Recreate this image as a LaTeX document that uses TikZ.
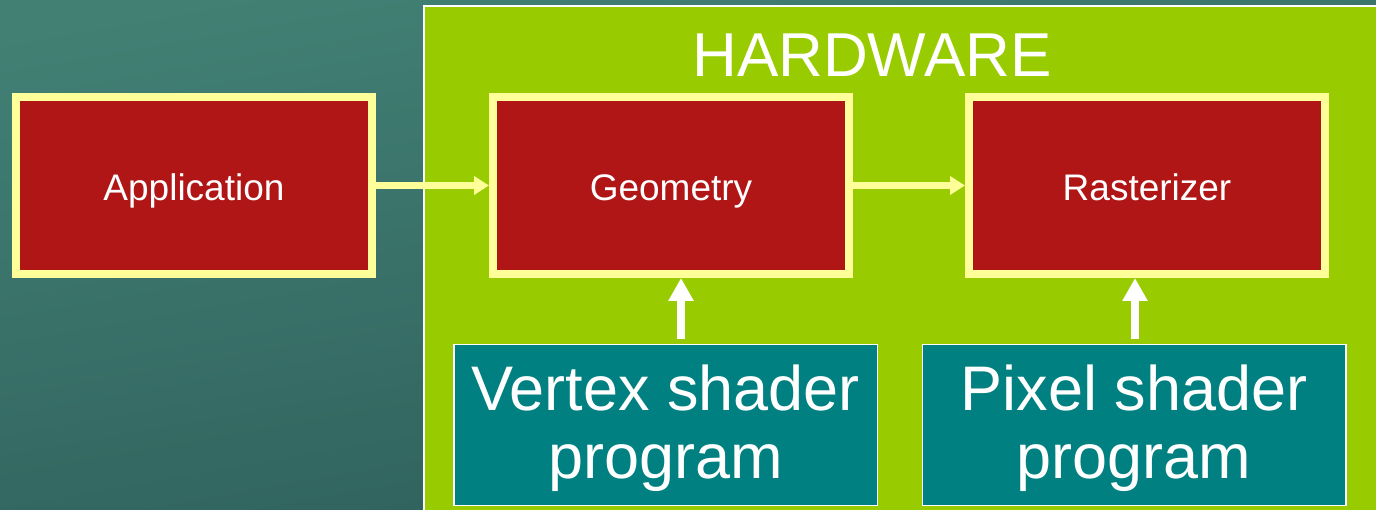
\documentclass[tikz,border=0pt]{standalone}
\usepackage{fontspec}
\setmainfont{Liberation Sans}
\usetikzlibrary{arrows.meta}
\definecolor{bgtop}{RGB}{66,128,116}
\definecolor{bgbot}{RGB}{45,93,90}
\definecolor{hwgreen}{RGB}{153,204,0}
\definecolor{boxred}{RGB}{176,22,22}
\definecolor{boxyellow}{RGB}{255,255,153}
\definecolor{shteal}{RGB}{0,128,128}
\tikzset{
  redbox/.style={draw=boxyellow, fill=boxred, line width=8pt, minimum width=356pt,
    minimum height=177pt, inner sep=0pt, text=white, font=\fontsize{37}{44}\selectfont,
    text height=31pt, text depth=0pt},
  shaderbox/.style={draw=white, fill=shteal, line width=1.5pt, minimum width=423.5pt,
    minimum height=160.5pt, inner sep=0pt, text=white, align=center,
    font=\fontsize{63}{68}\selectfont, text height=113pt, text depth=7pt},
  yarrow/.style={draw=boxyellow, line width=6.5pt, -{Triangle[length=15pt,width=18pt]}},
  warrow/.style={draw=white, line width=8pt, -{Triangle[length=23pt,width=24pt]}},
  titletext/.style={text=white, font=\fontsize{62}{70}\selectfont, inner sep=0pt}
}
\begin{document}
\begin{tikzpicture}[x=1pt,y=-1pt]
\useasboundingbox (0,0) rectangle (1376,510);
\clip (0,0) rectangle (1376,510);
\shade[top color=bgtop,bottom color=bgbot,shading angle=10] (-20,-20) rectangle (1400,530);
\filldraw[fill=hwgreen, draw=white, line width=2.5pt] (424,6) rectangle (1400,530);
\node[titletext] (hw) at (872,55) {HARDWARE};
\node[redbox] (app) at (194,185.5) {Application};
\node[redbox] (geo) at (671,185.5) {Geometry};
\node[redbox] (ras) at (1147,185.5) {Rasterizer};
\node[shaderbox] (vs) at (665.5,425) {Vertex shader\\program};
\node[shaderbox] (ps) at (1134,425) {Pixel shader\\program};
\draw[yarrow] (app.east) -- (geo.west);
\draw[yarrow] (geo.east) -- (ras.west);
\coordinate (a1) at (681,0);
\coordinate (a2) at (1135,0);
\draw[warrow, shorten <=5pt] (a1 |- vs.north) -- (a1 |- geo.south);
\draw[warrow, shorten <=5pt] (a2 |- ps.north) -- (a2 |- ras.south);
\end{tikzpicture}
\end{document}
